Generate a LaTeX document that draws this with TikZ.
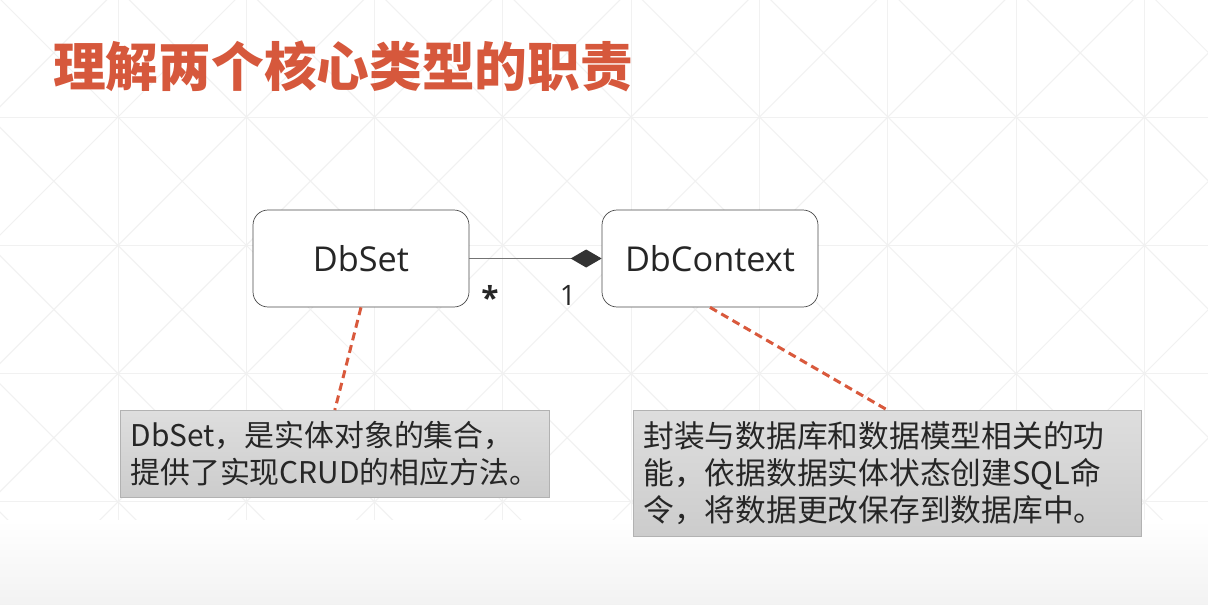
\documentclass[tikz,border=0pt]{standalone}
\usepackage{fontspec}
\usepackage{xcolor}
\usetikzlibrary{arrows.meta}
\setmainfont{Open Sans}
\newfontfamily\cjk{Noto Sans CJK SC}
\definecolor{titlered}{RGB}{214,88,60}
\definecolor{dashred}{RGB}{217,89,60}
\definecolor{gridgray}{RGB}{241,241,241}

\begin{document}
\begin{tikzpicture}[x=0.02cm, y=-0.02cm,
    box/.style={shape=rectangle, rounded corners=0.3cm, draw=black!70, fill=white,
        minimum width=4.32cm, minimum height=1.94cm, font=\fontsize{19.5}{24}\selectfont, text=black!85},
    note/.style={shape=rectangle, draw=black!30, top color=black!13, bottom color=black!20,
        align=left, inner xsep=0.2cm, inner ysep=0cm, text=black!85},
    link/.style={draw=dashred, line width=0.06cm, dash pattern=on 0.16cm off 0.1cm}]

    % slide background
    \useasboundingbox (0,0) rectangle (1208,605);
    \fill[white] (0,0) rectangle (1208,605);
    \begin{scope}
        \clip (0,0) rectangle (1208,545);
        \foreach \i in {-1,...,8} {
            \draw[gridgray, line width=0.02cm] (118+128.3*\i,0) -- (118+128.3*\i,605);
            \foreach \j in {-1,...,3} {
                \draw[gridgray, line width=0.02cm] (118+128.3*\i,117+128.3*\j) -- (246.3+128.3*\i,245.3+128.3*\j);
                \draw[gridgray, line width=0.02cm] (246.3+128.3*\i,117+128.3*\j) -- (118+128.3*\i,245.3+128.3*\j);
            }
        }
        \foreach \j in {-1,...,3}
            \draw[gridgray, line width=0.02cm] (0,117+128.3*\j) -- (1208,117+128.3*\j);
    \end{scope}
    \shade[top color=white, bottom color=black!5] (0,520) rectangle (1208,605);

    % title
    \node[anchor=west, text=titlered, font=\cjk\bfseries\fontsize{30}{36}\selectfont] (T) at (47,66) {理解两个核心类型的职责};

    % classes
    \node[box] (A) at (361,258.5) {DbSet};
    \node[box] (B) at (710,258.5) {DbContext};
    \draw[black!55, line width=0.03cm, -{Diamond[length=0.62cm, width=0.36cm, color=black!80]}] (A.east) -- (B.west);
    \node[font=\bfseries\fontsize{18}{20}\selectfont, text=black!85] (S) at (490,297) {*};
    \node[font=\fontsize{16}{18}\selectfont, text=black!85] (O) at (568,295) {1};

    % notes
    \node[note, font=\cjk\fontsize{17}{21.2}\selectfont, anchor=north west,
        minimum width=8.58cm, minimum height=1.74cm] (C) at (120,410)
        {DbSet，是实体对象的集合，\\提供了实现CRUD的相应方法。};
    \node[note, font=\cjk\fontsize{17.5}{21.2}\selectfont, anchor=north west,
        text width=9.76cm, minimum height=2.52cm] (D) at (633,410)
        {封装与数据库和数据模型相关的功\\能，依据数据实体状态创建SQL命\\令，将数据更改保存到数据库中。};

    \draw[link] (A.south) -- (C.north);
    \draw[link] (B.south) -- (D.north);
\end{tikzpicture}
\end{document}
